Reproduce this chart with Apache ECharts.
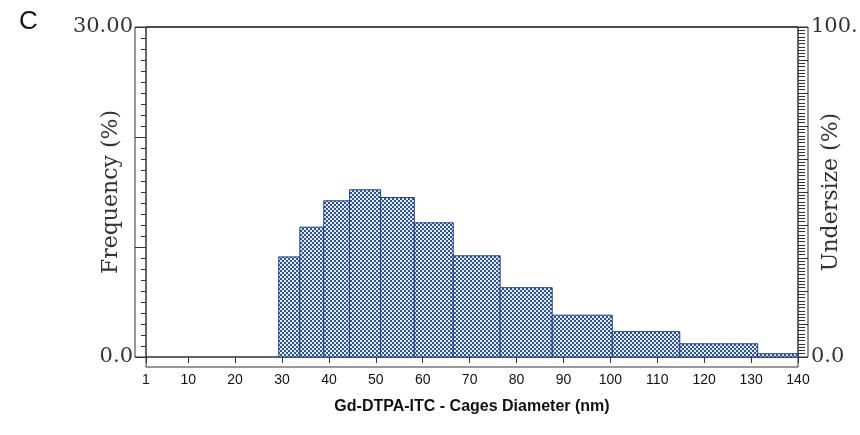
<!DOCTYPE html>
<html>
<head>
<meta charset="utf-8">
<script src="https://cdn.jsdelivr.net/npm/echarts@6/dist/echarts.min.js"></script>
<style>html,body{margin:0;padding:0;background:#fff}#c{width:860px;height:435px}</style>
</head>
<body>
<div id="c"></div>
<script>
// Histogram bin edges (nm) and frequency (%)
var binLeft  = [29.3, 33.8, 38.9, 44.4, 51.0, 58.2, 66.5, 76.5, 87.6, 100.4, 114.8, 131.4];
var binRight = [33.8, 38.9, 44.4, 51.0, 58.2, 66.5, 76.5, 87.6, 100.4, 114.8, 131.4, 140];
var frequency = [9.1, 11.8, 14.2, 15.2, 14.5, 12.2, 9.2, 6.3, 3.8, 2.3, 1.2, 0.3];
var xTicks = [1, 10, 20, 30, 40, 50, 60, 70, 80, 90, 100, 110, 120, 130, 140];
var xTitle = 'Gd-DTPA-ITC - Cages Diameter (nm)';
var leftTitle = 'Frequency (%)';
var rightTitle = 'Undersize (%)';
var panelLabel = 'C';

var data = binLeft.map(function (l, i) { return [l, binRight[i], frequency[i]]; });

// checkered fill pattern
var pc = document.createElement('canvas');
pc.width = 4; pc.height = 4;
var g = pc.getContext('2d');
g.fillStyle = '#2c52a3'; g.fillRect(0, 0, 4, 4);
g.fillStyle = '#e6edf9'; g.fillRect(0, 0, 2, 2); g.fillRect(2, 2, 2, 2);
var pattern = { image: pc, repeat: 'repeat' };

var lineColor = '#333';
var serif = 'DejaVu Serif';

var chart = echarts.init(document.getElementById('c'), null, { renderer: 'canvas' });
chart.setOption({
  animation: false,
  backgroundColor: '#fff',
  title: {
    text: panelLabel, left: 14, top: 4,
    textStyle: { fontFamily: 'Liberation Sans', fontSize: 26, fontWeight: 'normal', color: '#111' }
  },
  grid: [
    { left: 146, right: 62, top: 27, bottom: 78, show: true, borderColor: lineColor, borderWidth: 1, backgroundColor: 'transparent', outerBoundsMode: 'none' },
    { left: 135, right: 52, top: 27, bottom: 78, show: true, borderColor: lineColor, borderWidth: 1, backgroundColor: 'transparent', outerBoundsMode: 'none' },
    { left: 146, right: 62, top: 27, bottom: 68, show: true, borderColor: lineColor, borderWidth: 1, backgroundColor: 'transparent', outerBoundsMode: 'none' }
  ],
  xAxis: [
    {
      gridIndex: 0, type: 'value', min: 1, max: 140, position: 'bottom',
      axisLine: { show: false },
      axisTick: { show: true, inside: false, length: 6, customValues: xTicks, lineStyle: { color: lineColor } },
      axisLabel: { show: false }, splitLine: { show: false }
    },
    {
      gridIndex: 2, type: 'value', min: 1, max: 140, position: 'bottom',
      axisLine: { show: false }, axisTick: { show: false }, splitLine: { show: false },
      axisLabel: { show: true, customValues: xTicks, margin: 6, fontFamily: 'Liberation Sans', fontSize: 14, color: '#111' },
      name: xTitle, nameLocation: 'middle', nameGap: 32, nameMoveOverlap: false,
      nameTextStyle: { fontFamily: 'Liberation Sans', fontSize: 16, fontWeight: 'bold', color: '#111' }
    },
    { gridIndex: 1, type: 'value', min: 0, max: 1, show: false }
  ],
  yAxis: [
    {
      gridIndex: 0, type: 'value', min: 0, max: 30, interval: 10, position: 'left',
      axisLine: { show: false },
      axisTick: { show: true, inside: false, length: 11, lineStyle: { color: lineColor } },
      minorTick: { show: true, splitNumber: 10, length: 5, lineStyle: { color: lineColor } },
      splitLine: { show: false }, minorSplitLine: { show: false },
      axisLabel: {
        margin: 13, fontFamily: serif, fontSize: 21, color: '#333',
        formatter: function (v) { return v === 30 ? '30.00' : (v === 0 ? '0.0' : ''); }
      },
      name: leftTitle, nameLocation: 'middle', nameGap: 24, nameMoveOverlap: false,
      nameTextStyle: { fontFamily: serif, fontSize: 22, color: '#333' }
    },
    {
      gridIndex: 0, type: 'value', min: 0, max: 100, interval: 10, position: 'right',
      axisLine: { show: false },
      axisTick: { show: true, inside: false, length: 10, lineStyle: { color: lineColor } },
      minorTick: { show: true, splitNumber: 10, length: 7, lineStyle: { color: lineColor } },
      splitLine: { show: false }, minorSplitLine: { show: false },
      axisLabel: {
        margin: 13, fontFamily: serif, fontSize: 21, color: '#333',
        formatter: function (v) { return v === 100 ? '100.' : (v === 0 ? '0.0' : ''); }
      },
      name: rightTitle, nameLocation: 'middle', nameGap: 22, nameMoveOverlap: false,
      nameTextStyle: { fontFamily: serif, fontSize: 22, color: '#333' }
    },
    { gridIndex: 1, type: 'value', min: 0, max: 1, show: false },
    { gridIndex: 2, type: 'value', min: 0, max: 1, show: false }
  ],
  series: [{
    type: 'custom',
    xAxisIndex: 0, yAxisIndex: 0,
    data: data,
    encode: { x: [0, 1], y: 2 },
    renderItem: function (params, api) {
      var p0 = api.coord([api.value(0), api.value(2)]);
      var p1 = api.coord([api.value(1), 0]);
      return {
        type: 'rect',
        shape: { x: p0[0], y: p0[1], width: p1[0] - p0[0], height: p1[1] - p0[1] },
        style: { fill: pattern, stroke: '#1f3f88', lineWidth: 1 }
      };
    }
  }]
});
</script>
</body>
</html>
